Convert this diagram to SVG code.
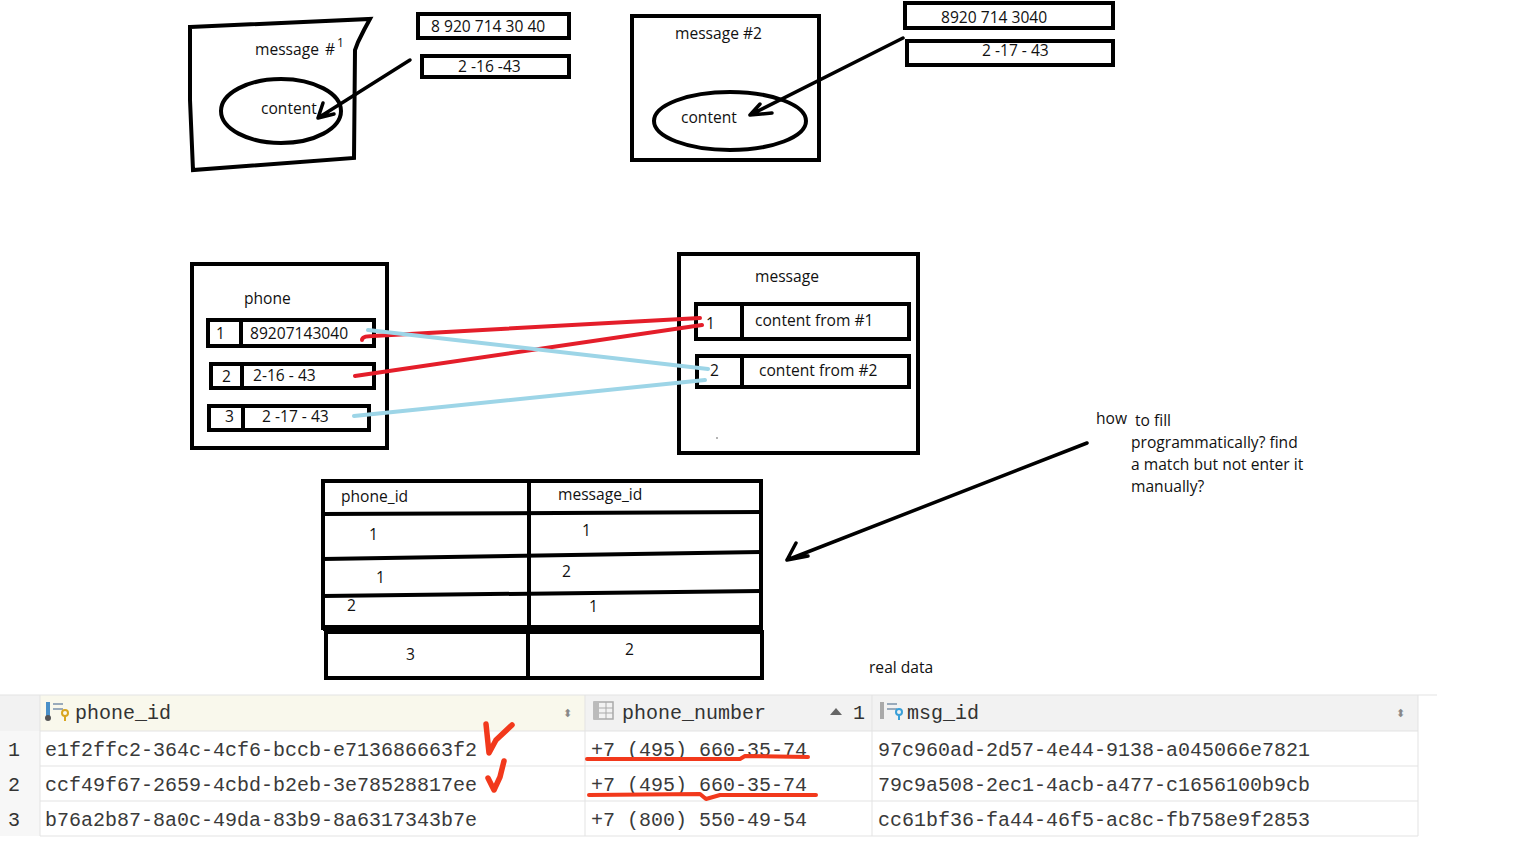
<svg xmlns="http://www.w3.org/2000/svg" width="1527" height="844" viewBox="0 0 1527 844">
<defs>
<style>
.t{font-family:"Open Sans","Noto Sans",sans-serif;font-size:15.6px;fill:#111}
.k{fill:none;stroke:#000;stroke-width:4;stroke-linejoin:miter}
.k3{fill:none;stroke:#000;stroke-width:3.5;stroke-linecap:round}
.red{fill:none;stroke:#e41e2a;stroke-width:4;stroke-linecap:round}
.blue{fill:none;stroke:#9dd5e7;stroke-width:4;stroke-linecap:round}
.m{font-family:"Liberation Mono","DejaVu Sans Mono",monospace;font-size:20px;fill:#3a3a3a}
.mh{font-family:"Liberation Mono","DejaVu Sans Mono",monospace;font-size:20px;fill:#333}
.rn{font-family:"Liberation Mono",monospace;font-size:20px;fill:#333}
.g{stroke:#e3e3e3;stroke-width:1;fill:none}
.ck{fill:none;stroke:#f2391c;stroke-width:5.5;stroke-linecap:round;stroke-linejoin:round}
.ul{fill:none;stroke:#f2391c;stroke-width:4;stroke-linecap:round;stroke-linejoin:round}
</style>
</defs>
<rect width="1527" height="844" fill="#fff"/>

<g id="msg1">
<path class="k" d="M190,27 L370,19 L364,30 L358,42 L355,50 L354,158 L193,170 L190,100 Z"/>
<text class="t" x="255" y="55">message</text>
<text class="t" x="325" y="55">#</text>
<text class="t" x="337" y="47" style="font-size:12px">1</text>
<ellipse class="k" cx="281" cy="111" rx="60" ry="32"/>
<text class="t" x="261" y="114">content</text>
</g>
<g id="num1">
<rect class="k" x="418" y="14" width="151" height="24"/>
<text class="t" x="431" y="32">8 920 714 30 40</text>
</g>
<g id="num2">
<rect class="k" x="422" y="56" width="147" height="21"/>
<text class="t" x="458" y="72">2 -16 -43</text>
</g>

<g id="msg2">
<rect class="k" x="632" y="16" width="187" height="144"/>
<text class="t" x="675" y="39">message #2</text>
<ellipse class="k" cx="730" cy="121" rx="76" ry="29"/>
<text class="t" x="681" y="123">content</text>
</g>
<g id="num3">
<rect class="k" x="905" y="3" width="208" height="25"/>
<text class="t" x="941" y="23">8920 714 3040</text>
</g>
<g id="num4">
<rect class="k" x="907" y="41" width="206" height="24"/>
<text class="t" x="982" y="56">2 -17 - 43</text>
</g>

<g id="phone">
<rect class="k" x="192" y="264" width="195" height="184"/>
<text class="t" x="244" y="304">phone</text>
<rect class="k" x="208" y="320" width="166" height="26"/>
<line class="k" x1="241" y1="318" x2="241" y2="347"/>
<text class="t" x="216" y="339">1</text>
<text class="t" x="250" y="339">89207143040</text>
<rect class="k" x="211" y="364" width="163" height="24"/>
<line class="k" x1="242" y1="364" x2="242" y2="389"/>
<text class="t" x="222" y="382">2</text>
<text class="t" x="253" y="381">2-16 - 43</text>
<rect class="k" x="209" y="406" width="160" height="24"/>
<line class="k" x1="243" y1="404" x2="243" y2="432"/>
<text class="t" x="225" y="422">3</text>
<text class="t" x="262" y="422">2 -17 - 43</text>
</g>

<g id="message">
<rect class="k" x="679" y="254" width="239" height="199"/>
<text class="t" x="755" y="282">message</text>
<rect class="k" x="696" y="304" width="213" height="35"/>
<line class="k" x1="742" y1="304" x2="742" y2="339"/>
<text class="t" x="706" y="329">1</text>
<text class="t" x="755" y="326">content from #1</text>
<rect class="k" x="697" y="356" width="212" height="31"/>
<line class="k" x1="742" y1="356" x2="742" y2="387"/>
<text class="t" x="710" y="376">2</text>
<text class="t" x="759" y="376">content from #2</text>
<circle cx="717" cy="438" r="0.8" fill="#555"/>
</g>

<g id="join">
<rect class="k" x="323" y="481" width="438" height="147"/>
<line class="k" x1="529" y1="481" x2="529" y2="630"/>
<line class="k" x1="321" y1="514" x2="761" y2="512"/>
<line class="k" x1="323" y1="559" x2="761" y2="552"/>
<line class="k" x1="323" y1="596" x2="761" y2="591"/>
<line x1="323" y1="628" x2="761" y2="628" stroke="#000" stroke-width="6"/>
<rect class="k" x="326" y="632" width="436" height="46"/>
<line class="k" x1="528" y1="630" x2="528" y2="678"/>
<text class="t" x="341" y="502">phone_id</text>
<text class="t" x="558" y="500">message_id</text>
<text class="t" x="369" y="540">1</text>
<text class="t" x="582" y="536">1</text>
<text class="t" x="376" y="583">1</text>
<text class="t" x="562" y="577">2</text>
<text class="t" x="347" y="611">2</text>
<text class="t" x="589" y="612">1</text>
<text class="t" x="406" y="660">3</text>
<text class="t" x="625" y="655">2</text>
</g>

<g id="note">
<text class="t" x="1096" y="424">how</text>
<text class="t" x="1135" y="426">to fill</text>
<text class="t" x="1131" y="448">programmatically? find</text>
<text class="t" x="1131" y="470">a match but not enter it</text>
<text class="t" x="1131" y="492">manually?</text>
</g>
<g id="real">
<text class="t" x="869" y="673">real data</text>
</g>

<g id="connectors">
<path class="k3" d="M410,60 L318,118 M318,118 L323,103 M318,118 L334,114"/>
<path class="k3" d="M903,38 L750,115 M750,115 L760,104 M750,115 L772,113"/>
<path class="k3" d="M1087,443 L787,560 M787,560 L796,543 M787,560 L808,556"/>
<path class="red" d="M700,318 L373,336 Q362,336 362,340"/>
<path class="red" d="M355,376 L702,325"/>
<path class="blue" d="M368,330 L708,369"/>
<path class="blue" d="M354,416 L705,380"/>
</g>

<g id="grid">
<rect x="0" y="695" width="1418" height="36" fill="#f2f2f2"/>
<rect x="40" y="695" width="545" height="36" fill="#f9f8ec"/>
<rect x="0" y="731" width="40" height="105" fill="#f7f7f7"/>
<line class="g" x1="0" y1="695" x2="1437" y2="695"/>
<line class="g" x1="40" y1="731" x2="1418" y2="731"/>
<line class="g" x1="40" y1="766" x2="1418" y2="766"/>
<line class="g" x1="40" y1="801" x2="1418" y2="801"/>
<line class="g" x1="40" y1="836" x2="1418" y2="836" stroke="#cfe2ee"/>
<line class="g" x1="40" y1="695" x2="40" y2="836"/>
<line class="g" x1="585" y1="695" x2="585" y2="836"/>
<line class="g" x1="872" y1="695" x2="872" y2="836"/>
<line class="g" x1="1418" y1="695" x2="1418" y2="836"/>
<g id="icon1">
<rect x="46" y="702" width="4" height="14" fill="#4a90c8"/>
<circle cx="48" cy="718" r="3" fill="#555"/>
<rect x="53" y="703" width="10" height="2" fill="#9ab"/>
<rect x="53" y="708" width="10" height="2" fill="#9ab"/>
<circle cx="65" cy="713" r="3" fill="none" stroke="#d9a520" stroke-width="2"/>
<line x1="65" y1="716" x2="65" y2="721" stroke="#d9a520" stroke-width="2"/>
</g>
<text class="mh" x="75" y="719">phone_id</text>
<text x="563" y="717" style="font-family:'DejaVu Sans',sans-serif;font-size:11px;fill:#888">⬍</text>
<g id="icon2">
<rect x="594" y="702" width="19" height="17" fill="none" stroke="#aaa" stroke-width="1.5"/>
<rect x="594" y="702" width="5" height="17" fill="#bbb"/>
<line x1="599" y1="708" x2="613" y2="708" stroke="#aaa"/>
<line x1="599" y1="713" x2="613" y2="713" stroke="#aaa"/>
<line x1="606" y1="702" x2="606" y2="719" stroke="#aaa"/>
</g>
<text class="mh" x="622" y="719">phone_number</text>
<path d="M830,715 L836,708 L842,715 Z" fill="#666"/>
<text class="mh" x="853" y="719">1</text>
<g id="icon3">
<rect x="880" y="702" width="4" height="17" fill="#aaa"/>
<rect x="887" y="703" width="10" height="2" fill="#9ab"/>
<rect x="887" y="708" width="10" height="2" fill="#9ab"/>
<circle cx="899" cy="712" r="3" fill="none" stroke="#3aa0d8" stroke-width="2"/>
<line x1="899" y1="715" x2="899" y2="720" stroke="#3aa0d8" stroke-width="2"/>
</g>
<text class="mh" x="907" y="719">msg_id</text>
<text x="1396" y="717" style="font-family:'DejaVu Sans',sans-serif;font-size:11px;fill:#888">⬍</text>
<text class="rn" x="8" y="756">1</text>
<text class="rn" x="8" y="791">2</text>
<text class="rn" x="8" y="826">3</text>
<text class="m" x="45" y="756">e1f2ffc2-364c-4cf6-bccb-e713686663f2</text>
<text class="m" x="45" y="791">ccf49f67-2659-4cbd-b2eb-3e78528817ee</text>
<text class="m" x="45" y="826">b76a2b87-8a0c-49da-83b9-8a6317343b7e</text>
<text class="m" x="591" y="756">+7 (495) 660-35-74</text>
<text class="m" x="591" y="791">+7 (495) 660-35-74</text>
<text class="m" x="591" y="826">+7 (800) 550-49-54</text>
<text class="m" x="878" y="756">97c960ad-2d57-4e44-9138-a045066e7821</text>
<text class="m" x="878" y="791">79c9a508-2ec1-4acb-a477-c1656100b9cb</text>
<text class="m" x="878" y="826">cc61bf36-fa44-46f5-ac8c-fb758e9f2853</text>
</g>
<g id="marks">
<path class="ck" d="M486,724 L489,753 L496,740 L512,725"/>
<path class="ck" d="M488,778 L494,790 L500,777 L504,761"/>
<path class="ul" d="M587,759 L740,759 L745,756 L808,757"/>
<path class="ul" d="M589,795 L700,794 L706,799 L720,795 L816,795"/>
</g>
</svg>
